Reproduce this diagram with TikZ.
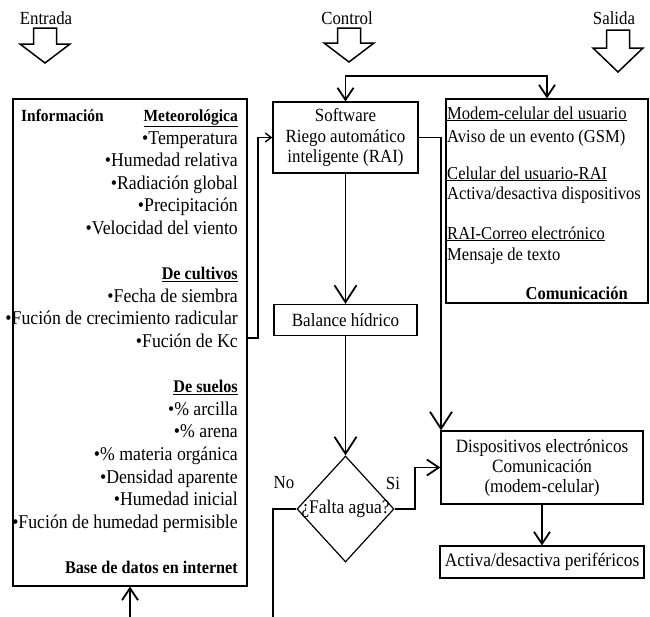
\documentclass[tikz,border=0pt]{standalone}
\usepackage{fontspec}
\setmainfont{Liberation Serif}[FakeStretch=0.91]
\usetikzlibrary{arrows.meta,shapes.geometric}
\newcommand{\fs}[2]{\fontsize{#1}{#2}\selectfont}
\begin{document}
\begin{tikzpicture}[x=1pt,y=-1pt,
  box/.style={draw, line width=1.2pt, inner sep=0pt, align=center},
  conn/.style={line width=1.8pt},
  bigarr/.style={conn, -{Straight Barb[length=17pt,width=22pt]}},
  medarr/.style={conn, -{Straight Barb[length=12pt,width=16pt]}},
  smallarr/.style={line width=1.4pt, -{Straight Barb[length=6pt,width=9pt]}},
  blockarr/.style={draw, line width=1.5pt, line join=miter},
  ltxt/.style={inner sep=0pt, font=\fs{19.5}{22}},
  lhead/.style={inner sep=0pt, font=\fs{17.8}{22}\bfseries},
  rtxt/.style={inner sep=0pt, font=\fs{18.2}{20}},
  lbl/.style={inner sep=0pt, font=\fs{18.5}{20}},
]
\useasboundingbox (0,0) rectangle (650,616);
\fill[white] (0,0) rectangle (650,616);

% top labels and block arrows
\node[lbl] (ent) at (46,18) {Entrada};
\node[lbl] (ctl) at (347,18) {Control};
\node[lbl] (sal) at (614,18) {Salida};
\draw[blockarr] (33.5,28) -- (56.5,28) -- (56.5,44) -- (70,44) -- (45,63) -- (20,44) -- (33.5,44) -- cycle;
\draw[blockarr] (337.5,28) -- (360.5,28) -- (360.5,43) -- (374,43) -- (349,62) -- (324,43) -- (337.5,43) -- cycle;
\draw[blockarr] (606.5,30) -- (629.5,30) -- (629.5,48) -- (643,48) -- (618,72) -- (593,48) -- (606.5,48) -- cycle;

% boxes
\node[box, minimum width=234pt, minimum height=487pt] (lbox) at (130,342.5) {};
\node[box, minimum width=202pt, minimum height=204pt] (rbox) at (547,201) {};
\node[box, minimum width=145pt, minimum height=71pt, font=\fs{18.6}{20.5}] (soft) at (345.5,137.5) {Software\\Riego automático\\inteligente (RAI)};
\node[box, minimum width=143pt, minimum height=31pt, font=\fs{18.7}{20}] (bal) at (345.5,320) {Balance hídrico};
\node[draw, diamond, line width=1.2pt, minimum width=97pt, minimum height=106pt, inner sep=0pt] (dia) at (345.5,509) {};
\node[inner sep=0pt, font=\fs{19.3}{20}] (diat) at (dia.center) {¿Falta agua?};
\node[box, minimum width=202pt, minimum height=73pt, font=\fs{18.8}{20}] (disp) at (542,467.5) {Dispositivos electrónicos\\Comunicación\\(modem-celular)};
\node[box, minimum width=204pt, minimum height=32pt, font=\fs{19.1}{20}] (act) at (542,562) {Activa/desactiva periféricos};

% left box text
\node[lhead, font=\fs{17}{22}\bfseries, anchor=base west] (info) at (21,121.5) {Información};
\node[lhead, font=\fs{17}{22}\bfseries, anchor=base east] (meteo) at (238,121.5) {\underline{Meteorológica}};
\foreach \i/\t in {1/Temperatura, 2/Humedad relativa, 3/Radiación global, 4/Precipitación, 5/Velocidad del viento, 8/Fecha de siembra, 9/Fución de crecimiento radicular, 10/Fución de Kc, 13/\% arcilla, 14/\% arena, 15/\% materia orgánica, 16/Densidad aparente, 17/Humedad inicial, 18/Fución de humedad permisible}
  \node[ltxt, anchor=base east] (li\i) at (238,121.5+22.6*\i) {•\t};
\node[lhead, anchor=base east] (cult) at (238,121.5+22.6*7) {\underline{De cultivos}};
\node[lhead, anchor=base east] (suel) at (238,121.5+22.6*12) {\underline{De suelos}};
\node[lhead, anchor=base east] (bdat) at (238,121.5+22.6*20) {Base de datos en internet};

% right box text
\node[rtxt, anchor=base west] (r1) at (447,119) {\underline{Modem-celular del usuario}};
\node[rtxt, anchor=base west] (r2) at (447,142) {Aviso de un evento (GSM)};
\node[rtxt, anchor=base west] (r3) at (447,179) {\underline{Celular del usuario-RAI}};
\node[rtxt, anchor=base west] (r4) at (447,199) {Activa/desactiva dispositivos};
\node[rtxt, anchor=base west] (r5) at (447,239) {\underline{RAI-Correo electrónico}};
\node[rtxt, anchor=base west] (r6) at (447,260) {Mensaje de texto};
\node[rtxt, font=\fs{18.2}{20}\bfseries, anchor=base east] (com) at (628,299) {Comunicación};

% decision labels
\node[lbl] (no) at (284,483) {No};
\node[lbl] (si) at (393,483) {Si};

% connectors
\coordinate (topmid) at (445,76);
\draw[medarr] (topmid) -| (soft.north);
\draw[medarr] (topmid) -| (rbox.north);
\coordinate (kcv) at (258,338);
\draw[smallarr] (lbox.east |- kcv) -- (kcv) |- (soft.west);
\draw[bigarr] (soft.south) -- (bal.north);
\draw[bigarr] (bal.south) -- (dia.north);
\coordinate (sv) at (441,137.5);
\draw[bigarr] (soft.east) -- (sv) -- (sv |- disp.north);
\coordinate (siv) at (415,509);
\draw[medarr] (dia.east) -- (siv) |- (disp.west);
\coordinate (nob) at (273,618);
\draw[conn] (dia.west) -| (nob);
\coordinate (upb) at (130,618);
\draw[medarr] (upb) -- (lbox.south);
\draw[medarr] (disp.south) -- (act.north);
\end{tikzpicture}
\end{document}
